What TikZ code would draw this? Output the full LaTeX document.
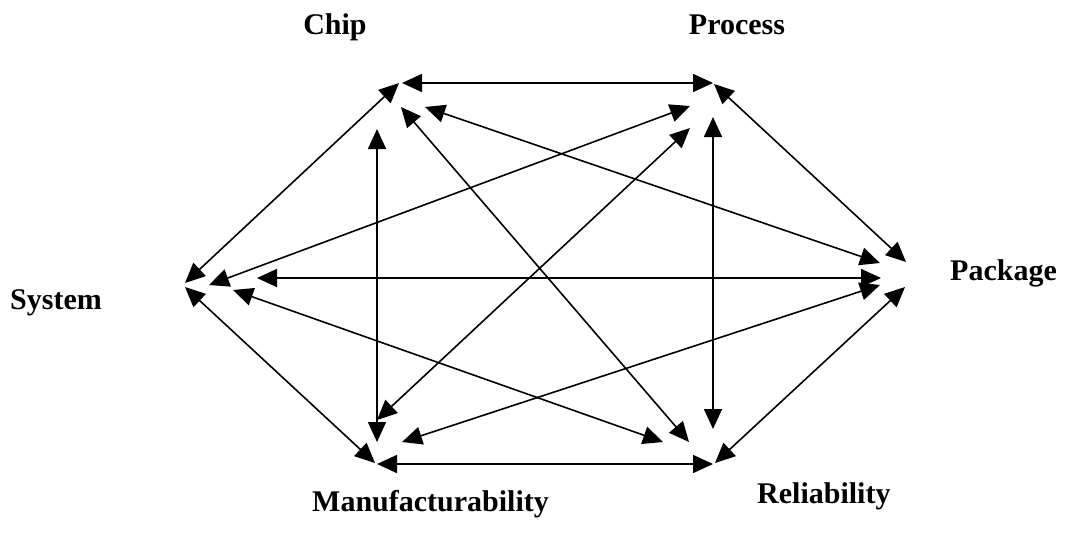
\documentclass[tikz,border=0pt]{standalone}
\usepackage{fontspec}
\setmainfont{Liberation Serif}
\usetikzlibrary{arrows.meta}
\begin{document}
\begin{tikzpicture}[x=1pt,y=-1pt,
  link/.style={line width=1.6pt,{Triangle[length=20pt,width=18pt]}-{Triangle[length=20pt,width=18pt]}},
  lbl/.style={font=\fontsize{30}{36}\selectfont\bfseries,inner sep=0pt}]
\useasboundingbox (0,0) rectangle (1065,536);
% labels
\node[lbl,anchor=base] (chip) at (335,34) {Chip};
\node[lbl,anchor=base] (proc) at (737,34) {Process};
\node[lbl,anchor=base west] (sys) at (10,309) {System};
\node[lbl,anchor=base west] (pack) at (950,280) {Package};
\node[lbl,anchor=base west] (manu) at (312,511) {Manufacturability};
\node[lbl,anchor=base west] (reli) at (757,503) {Reliability};
% endpoints
\coordinate (CP1) at (402,83);  \coordinate (CP2) at (713,83);
\coordinate (PK1) at (714,84);  \coordinate (PK2) at (906,262);
\coordinate (CS1) at (399,83);  \coordinate (CS2) at (185,283);
\coordinate (CK1) at (425,107); \coordinate (CK2) at (880,263);
\coordinate (CR1) at (401,107); \coordinate (CR2) at (689,442);
\coordinate (CM1) at (377,129); \coordinate (CM2) at (377,442);
\coordinate (PS1) at (690,106); \coordinate (PS2) at (209,285);
\coordinate (PM1) at (690,128); \coordinate (PM2) at (377,420);
\coordinate (PR1) at (713,117); \coordinate (PR2) at (713,429);
\coordinate (SK1) at (257,278); \coordinate (SK2) at (881,278);
\coordinate (SM1) at (185,287); \coordinate (SM2) at (375,463);
\coordinate (SR1) at (233,290); \coordinate (SR2) at (663,442);
\coordinate (KM1) at (880,285); \coordinate (KM2) at (402,442);
\coordinate (KR1) at (905,287); \coordinate (KR2) at (715,463);
\coordinate (MR1) at (377,464); \coordinate (MR2) at (713,464);
% connectors
\draw[link] (CP1) -- (CP2);
\draw[link] (PK1) -- (PK2);
\draw[link] (CS1) -- (CS2);
\draw[link] (CK1) -- (CK2);
\draw[link] (CR1) -- (CR2);
\draw[link] (CM1) -- (CM2);
\draw[link] (PS1) -- (PS2);
\draw[link] (PM1) -- (PM2);
\draw[link] (PR1) -- (PR2);
\draw[link] (SK1) -- (SK2);
\draw[link] (SM1) -- (SM2);
\draw[link] (SR1) -- (SR2);
\draw[link] (KM1) -- (KM2);
\draw[link] (KR1) -- (KR2);
\draw[link] (MR1) -- (MR2);
\end{tikzpicture}
\end{document}
